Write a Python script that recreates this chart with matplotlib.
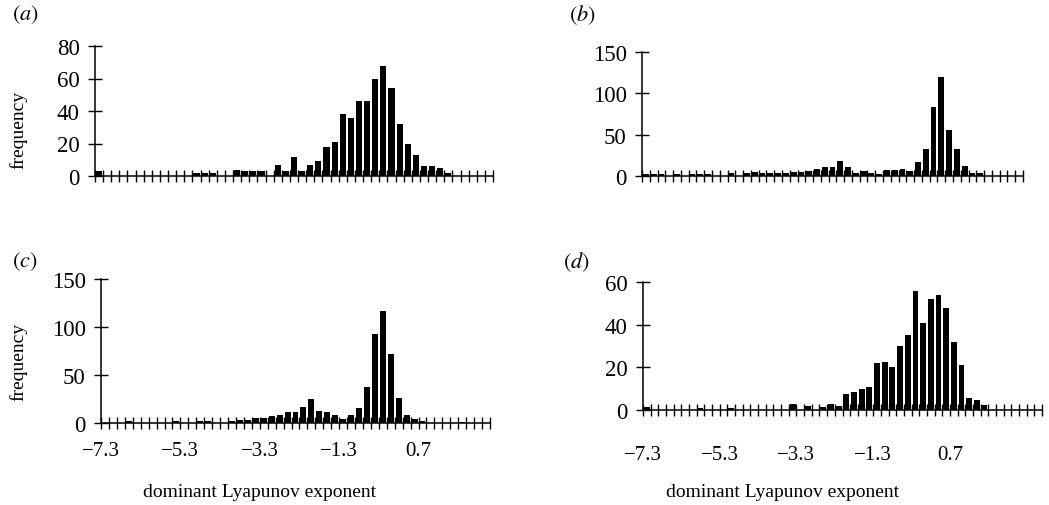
import numpy as np
import matplotlib
matplotlib.use('Agg')
import matplotlib.pyplot as plt

# histogram counts, one value per 0.2 wide bin starting at -7.3
freq_a = [3, 0, 0, 0, 0, 0, 0, 0, 0, 0,
          0, 0, 2, 2, 2, 0, 0, 4, 3, 3,
          3, 0, 7, 3, 12, 3, 7, 9, 18, 21,
          38, 36, 46, 46, 60, 68, 54, 32, 20, 13,
          6, 6, 5, 2, 0, 0, 0, 0, 0]
freq_b = [3, 2, 2, 0, 3, 0, 3, 2, 3, 0,
          0, 4, 0, 4, 5, 4, 4, 4, 4, 5,
          5, 6, 9, 11, 11, 18, 11, 4, 6, 4,
          3, 7, 7, 8, 6, 17, 33, 84, 120, 56,
          33, 12, 4, 4, 0, 0, 0, 0, 0]
freq_c = [0, 0, 0, 2, 0, 0, 0, 0, 0, 2,
          0, 0, 2, 2, 0, 0, 2, 3, 3, 5,
          5, 7, 8, 11, 11, 17, 25, 13, 11, 8,
          4, 8, 16, 38, 93, 117, 72, 26, 8, 4,
          2, 0, 0, 0, 0, 1, 0, 0, 0]
freq_d = [1.5, 0, 0, 0, 0, 0, 0, 1, 0, 0,
          0, 1, 0, 0, 0, 0, 0, 0, 0, 3,
          0, 2, 0, 1.5, 3, 2, 7.5, 8.5, 10, 11,
          22, 22.5, 20, 30, 35, 56, 41, 52, 54, 48,
          32, 21, 5.5, 4.5, 2.5, 0, 0, 0, 0, 0,
          0, 0]

x_start = -7.3
bin_w = 0.2
xtick_vals = [-7.3, -5.3, -3.3, -1.3, 0.7]
yticks_a = [0, 20, 40, 60, 80]
yticks_b = [0, 50, 100, 150]
yticks_c = [0, 50, 100, 150]
yticks_d = [0, 20, 40, 60]

plt.rcParams['font.family'] = ['Liberation Serif', 'DejaVu Serif']
plt.rcParams['mathtext.fontset'] = 'stix'
plt.rcParams['axes.unicode_minus'] = True

W, H = 1049, 506
fig = plt.figure(figsize=(W / 100, H / 100), dpi=100)


def px_axes(x0, x1, ytop, ybot):
    # axes placed in pixel coordinates of the reference picture
    return fig.add_axes([x0 / W, 1 - ybot / H, (x1 - x0) / W, (ybot - ytop) / H])


# (data, pixel box, nbins on axis, ymax, yticks, letter, letter pos, bottom row?, label pad)
panels = [
    (freq_a, (95, 493, 47, 177), 49, 80, yticks_a, 'a', (12, 15), False, 0),
    (freq_b, (642, 1023, 53, 177), 49, 150, yticks_b, 'b', (569, 15), False, 0),
    (freq_c, (101, 490, 280, 424), 49, 150, yticks_c, 'c', (12, 262), True, 9),
    (freq_d, (643, 1042, 283, 411), 52, 60, yticks_d, 'd', (563, 262), True, 21),
]

for data, box, nbins, ymax, yticks, letter, lpos, bottom, pad in panels:
    ax = px_axes(*box)
    vals = np.array(data, dtype=float)
    centers = x_start + bin_w * (np.arange(len(vals)) + 0.5)
    ax.bar(centers, vals, width=0.15, color='black', linewidth=0)

    x_end = x_start + bin_w * nbins
    ax.set_xlim(x_start, x_end)
    ax.set_ylim(0, ymax)

    for s in ['top', 'right']:
        ax.spines[s].set_visible(False)
    ax.spines['left'].set_linewidth(1.1)
    ax.spines['bottom'].set_linewidth(1.1)

    edges = x_start + bin_w * np.arange(nbins + 1)
    ax.set_xticks(edges, minor=True)
    ax.set_xticks(xtick_vals)
    if bottom:
        ax.set_xticklabels([f'{v:.1f}'.replace('-', '\u2212') for v in xtick_vals])
    else:
        ax.set_xticklabels([])
    ax.tick_params(axis='x', which='both', direction='inout', length=8,
                   width=1, labelsize=15, pad=pad)
    ax.set_yticks(yticks)
    ax.tick_params(axis='y', direction='inout', length=10, width=1,
                   labelsize=16.5, pad=6)

    fig.text(lpos[0] / W, 1 - lpos[1] / H, '$(' + letter + ')$', fontsize=16,
             va='center', ha='left')

# y labels on the left panels
fig.text(18 / W, 1 - 130 / H, 'frequency', rotation=90, ha='center',
         va='center', fontsize=14)
fig.text(18 / W, 1 - 362 / H, 'frequency', rotation=90, ha='center',
         va='center', fontsize=14)

# x labels under the bottom panels
fig.text(260 / W, 1 - 493 / H, 'dominant Lyapunov exponent', ha='center',
         va='center', fontsize=14)
fig.text(783 / W, 1 - 493 / H, 'dominant Lyapunov exponent', ha='center',
         va='center', fontsize=14)

fig.savefig('out.png', dpi=100, facecolor='white')
